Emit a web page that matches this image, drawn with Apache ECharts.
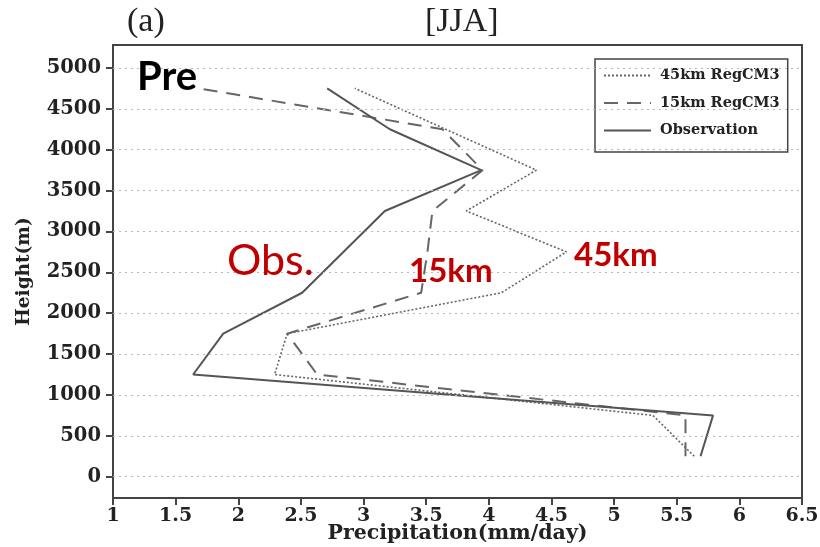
<!DOCTYPE html>
<html>
<head>
<meta charset="utf-8">
<script src="https://cdn.jsdelivr.net/npm/echarts@6/dist/echarts.min.js"></script>
<style>
  html, body { margin: 0; padding: 0; background: #fff; }
  #chart { width: 820px; height: 547px; }
</style>
</head>
<body>
<div id="chart"></div>
<script>
// Layer mid-heights (m)
const heights = [250, 750, 1250, 1750, 2250, 2750, 3250, 3750, 4250, 4750];

// Summer (JJA) precipitation by height, mm/day (null = no vertex at that level)
const reg45 = [5.64, 5.31, 2.29, 2.39, 4.10, 4.62, 3.82, 4.38, null, 2.93];
const reg15 = [5.57, 5.57, 2.63, 2.39, 3.46, 3.51, 3.55, 3.95, 3.63, 1.68];
const obs   = [5.69, 5.79, 1.64, 1.88, 2.51, null, 3.17, 3.94, 3.21, 2.71];

const seriesNames = ['45km RegCM3', '15km RegCM3', 'Observation'];

// Axis tick values
const yTicks = [0, 500, 1000, 1500, 2000, 2500, 3000, 3500, 4000, 4500, 5000];

function pairs(vals) {
  return heights.map((h, i) => [vals[i], h]).filter(p => p[0] !== null);
}

const serif = '"DejaVu Serif", serif';
const chart = echarts.init(document.getElementById('chart'), null, { renderer: 'canvas' });

chart.setOption({
  backgroundColor: '#fff',
  animation: false,
  title: [
    { text: '(a)', left: 122, top: 0,
      textStyle: { fontFamily: '"Liberation Serif", serif', fontSize: 34, fontWeight: 'normal', color: '#222' } },
    { text: '[JJA]', left: 420, top: 0,
      textStyle: { fontFamily: '"Liberation Serif", serif', fontSize: 34, fontWeight: 'normal', color: '#222' } }
  ],
  grid: {
    left: 113, right: 18, top: 45, bottom: 49,
    outerBoundsMode: 'none',
    containLabel: false,
    show: true, borderColor: '#444', borderWidth: 2, backgroundColor: '#fff'
  },
  legend: {
    data: seriesNames,
    orient: 'vertical',
    left: 595, top: 59,
    padding: [9, 8, 14, 8],
    itemGap: 12.5,
    itemWidth: 47, itemHeight: 14,
    borderColor: '#444', borderWidth: 1.5,
    itemStyle: { opacity: 0 },
    textStyle: { fontFamily: serif, fontSize: 14.5, fontWeight: 'bold', color: '#222', padding: [0, 0, 0, 4] }
  },
  xAxis: {
    type: 'value', min: 1, max: 6.5, interval: 0.5,
    name: 'Precipitation(mm/day)', nameLocation: 'middle', nameGap: 25,
    nameMoveOverlap: false,
    nameTextStyle: { fontFamily: serif, fontSize: 20.5, fontWeight: 'bold', color: '#222',
                     verticalAlign: 'top', lineHeight: 22 },
    axisLine: { show: true, onZero: false, lineStyle: { color: '#444', width: 2 } },
    axisTick: { show: true, inside: false, length: 7, lineStyle: { color: '#444', width: 2 } },
    axisLabel: { margin: 9, fontFamily: serif, fontSize: 19, fontWeight: 'bold', color: '#222',
                 formatter: v => String(v) },
    splitLine: { show: false }
  },
  yAxis: {
    type: 'value', min: -260, max: 5280,
    name: 'Height(m)', nameLocation: 'middle', nameGap: 79, nameRotate: 90,
    nameMoveOverlap: false,
    nameTextStyle: { fontFamily: serif, fontSize: 18.5, fontWeight: 'bold', color: '#222' },
    axisLine: { show: true, onZero: false, lineStyle: { color: '#444', width: 2 } },
    axisTick: { show: true, inside: false, length: 7, customValues: yTicks,
                lineStyle: { color: '#444', width: 2 } },
    axisLabel: { margin: 12, customValues: yTicks, fontFamily: serif, fontSize: 19.5,
                 fontWeight: 'bold', color: '#222', formatter: v => String(v) },
    splitLine: { show: false }
  },
  series: [
    {
      name: 'gridlines', type: 'line', data: [], silent: true, z: 1,
      markLine: {
        silent: true, symbol: 'none', label: { show: false },
        lineStyle: { type: [2, 4], color: '#bbb', width: 1.2 },
        data: yTicks.map(v => ({ yAxis: v }))
      }
    },
    {
      name: seriesNames[0], type: 'line', data: pairs(reg45), symbol: 'none', z: 3,
      itemStyle: { color: '#666' },
      lineStyle: { color: '#666', width: 1.6, type: [2, 2] }
    },
    {
      name: seriesNames[1], type: 'line', data: pairs(reg15), symbol: 'none', z: 3,
      itemStyle: { color: '#666' },
      lineStyle: { color: '#666', width: 2, type: [14, 9] }
    },
    {
      name: seriesNames[2], type: 'line', data: pairs(obs), symbol: 'none', z: 3,
      itemStyle: { color: '#555' },
      lineStyle: { color: '#555', width: 2, type: 'solid' }
    }
  ],
  graphic: [
    { type: 'text', left: 137, top: 57, z: 10,
      style: { text: 'Pre', font: 'bold 40px Lato, "Noto Sans", sans-serif', fill: '#000' } },
    { type: 'text', left: 227, top: 240, z: 10,
      style: { text: 'Obs.', font: '43px Lato, "Noto Sans", sans-serif', fill: '#C00000' } },
    { type: 'text', left: 409, top: 255, z: 10,
      style: { text: '15km', font: 'bold 33px Lato, "Noto Sans", sans-serif', fill: '#C00000' } },
    { type: 'text', left: 574, top: 239, z: 10,
      style: { text: '45km', font: 'bold 33px Lato, "Noto Sans", sans-serif', fill: '#C00000' } }
  ]
});
</script>
</body>
</html>
